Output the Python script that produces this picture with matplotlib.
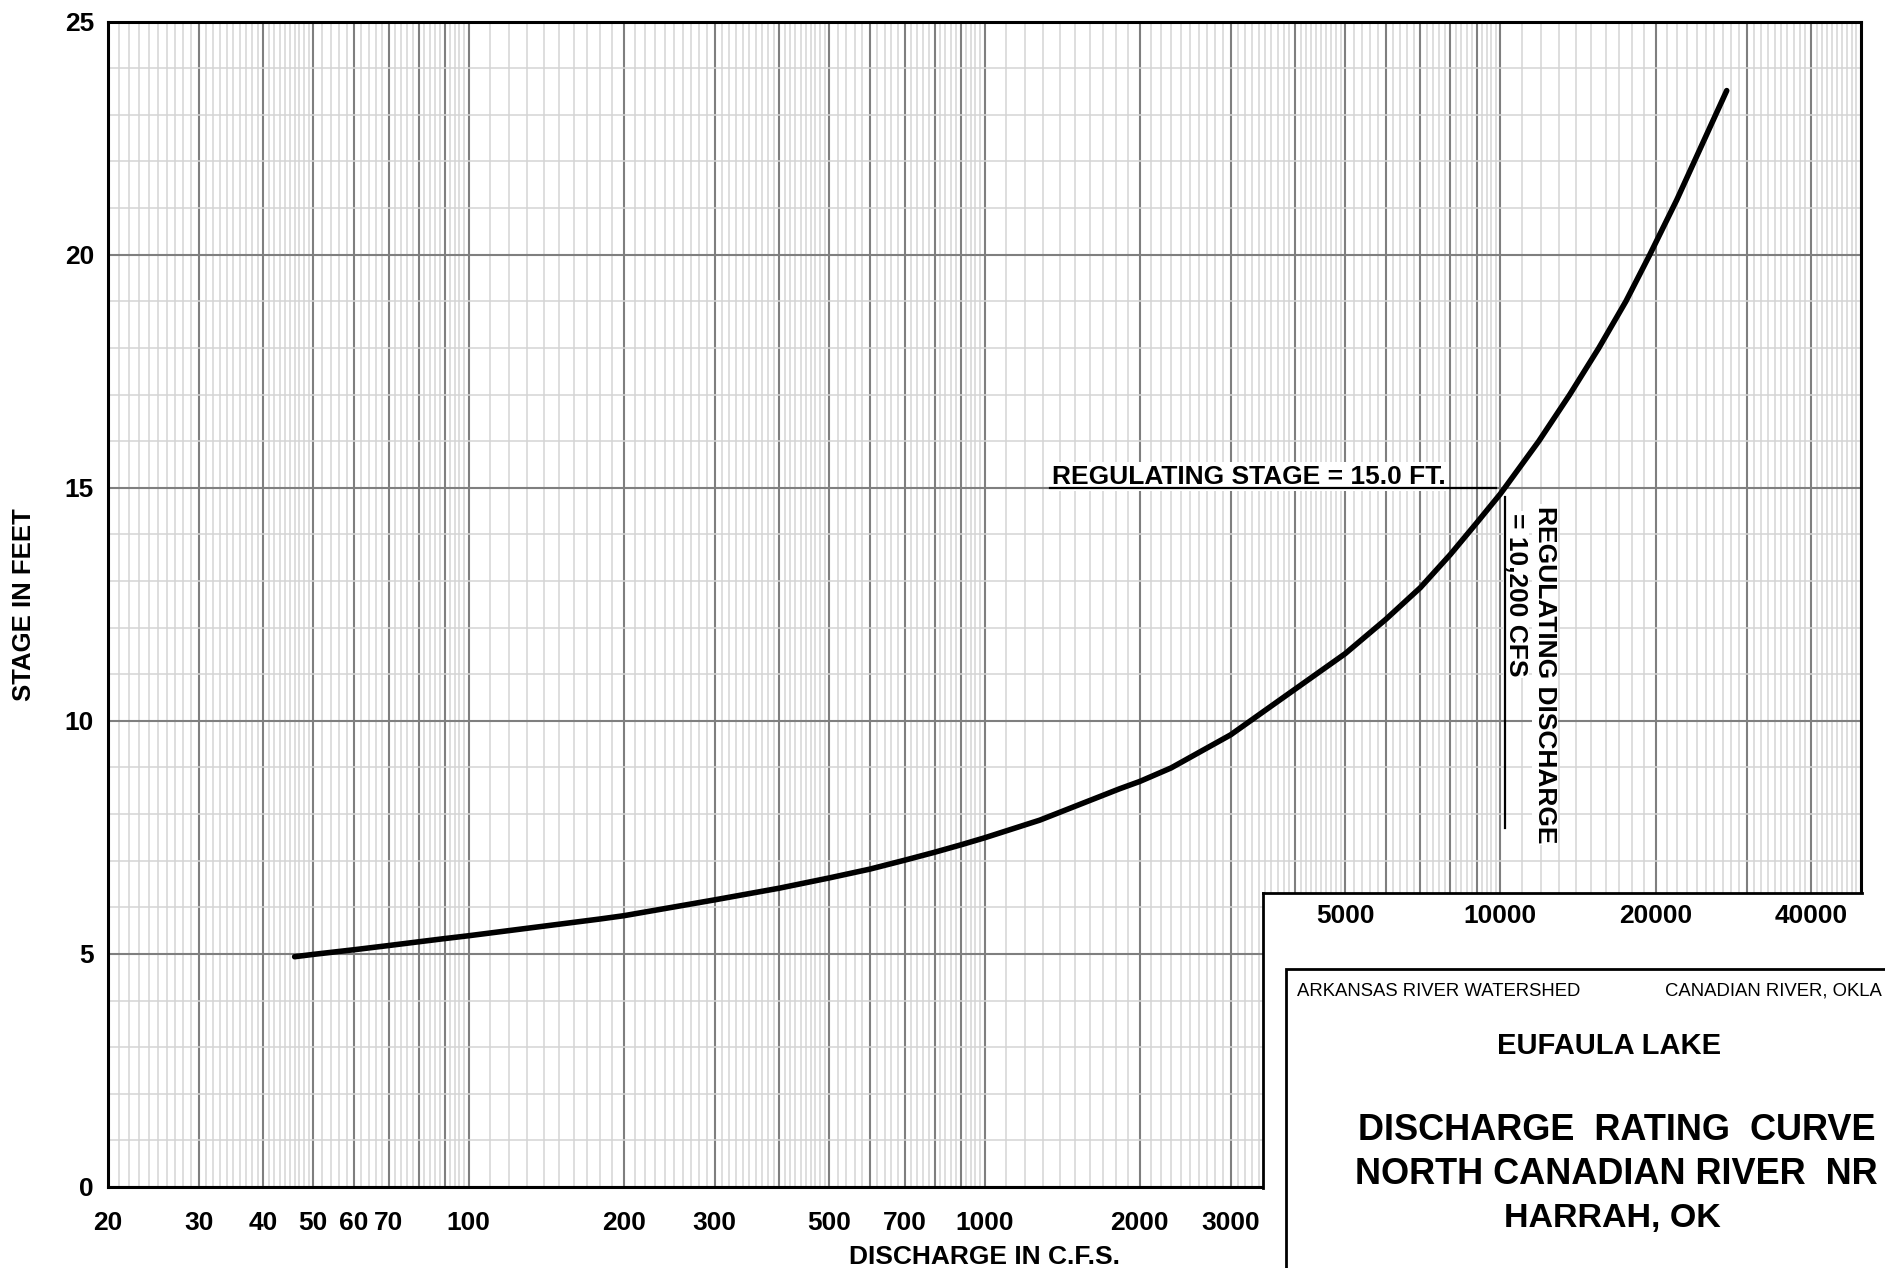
import numpy as np
import matplotlib.pyplot as plt
import matplotlib.transforms as mtransforms
from matplotlib.patches import Rectangle
from matplotlib.lines import Line2D
from matplotlib.ticker import FixedLocator, FuncFormatter, NullFormatter

plt.rcParams['font.family'] = ['Liberation Sans', 'DejaVu Sans']
plt.rcParams['font.weight'] = 'bold'

# rating curve, discharge (cfs) vs stage (ft)
discharge = [46, 50, 60, 70, 80, 90, 100, 180, 200, 300, 400, 500, 600, 700,
             800, 900, 1000, 1280, 1825, 2000, 2300, 3000, 4000, 5000, 6000,
             7000, 8000, 9000, 10000, 10200, 11870, 13630, 15520, 17510,
             19480, 21960, 27460]
stage = [4.94, 4.99, 5.09, 5.18, 5.26, 5.33, 5.39, 5.75, 5.82, 6.16, 6.41,
         6.63, 6.82, 7.01, 7.18, 7.34, 7.49, 7.87, 8.54, 8.70, 8.99, 9.70,
         10.68, 11.44, 12.18, 12.86, 13.57, 14.25, 14.87, 15.0, 16.0, 17.0,
         18.0, 19.0, 20.0, 21.17, 23.52]

reg_stage = 15.0
reg_discharge = 10200

bottom_labels = [20, 30, 40, 50, 60, 70, 100, 200, 300, 500, 700, 1000, 2000, 3000]
box_labels = [5000, 10000, 20000, 40000]
y_labels = [0, 5, 10, 15, 20, 25]

W, H = 1885, 1268
fig = plt.figure(figsize=(W / 100, H / 100), dpi=100)


def fx(px):
    return px / W


def fy(py):
    return 1 - py / H


ax = fig.add_axes([fx(108), fy(1187), fx(1861) - fx(108), fy(21.6) - fy(1187)])
ax.set_xscale('log')
ax.set_xlim(20, 50000)
ax.set_ylim(0, 25)

# log paper grid: heavy lines at every integer, light lines in between
# (tenths up to 5, fifths from 5 to 10)
major_x = [m * 10 ** k for k in range(1, 5) for m in range(1, 10)]
major_x = [v for v in major_x if 20 <= v <= 50000]
subs = list(np.round(np.arange(1.1, 5.0, 0.1), 1)) + list(np.round(np.arange(5.2, 10.0, 0.2), 1))
subs = [m for m in subs if abs(m - round(m)) > 1e-6]
minor_x = [m * 10 ** k for k in range(1, 5) for m in subs]
ax.xaxis.set_major_locator(FixedLocator(major_x))
ax.xaxis.set_minor_locator(FixedLocator(minor_x))
ax.xaxis.set_major_formatter(FuncFormatter(
    lambda v, p: str(int(round(v))) if int(round(v)) in bottom_labels else ''))
ax.xaxis.set_minor_formatter(NullFormatter())

ax.yaxis.set_major_locator(FixedLocator(y_labels))
ax.yaxis.set_minor_locator(FixedLocator(np.arange(0, 26, 1)))
ax.yaxis.set_minor_formatter(NullFormatter())

ax.set_axisbelow(True)
ax.grid(which='minor', color='#d4d4d4', lw=1.1)
ax.grid(which='major', color='#7f7f7f', lw=1.5)
ax.tick_params(which='both', length=0, labelsize=19)
ax.tick_params(axis='x', pad=17)
ax.tick_params(axis='y', pad=10)
for s in ax.spines.values():
    s.set_linewidth(2.2)
    s.set_color('black')

ax.plot(discharge, stage, color='black', lw=4, solid_capstyle='round',
        solid_joinstyle='round', zorder=4)

# regulating stage and discharge callouts
ax.annotate('REGULATING STAGE = 15.0 FT.', xy=(1352, reg_stage), xytext=(0, 3),
            textcoords='offset points', ha='left', va='baseline', fontsize=19,
            bbox=dict(fc='white', ec='none', pad=2), zorder=5)
ax.plot([1340, 9800], [reg_stage, reg_stage], color='black', lw=1.6, zorder=6)

ax.annotate('= 10,200 CFS', xy=(reg_discharge, reg_stage), xytext=(8, -18),
            textcoords='offset points', rotation=270, ha='center', va='top',
            fontsize=19, bbox=dict(fc='white', ec='none', pad=1), zorder=5)
ax.annotate('REGULATING DISCHARGE', xy=(reg_discharge, reg_stage), xytext=(29, -13),
            textcoords='offset points', rotation=270, ha='center', va='top',
            fontsize=19, bbox=dict(fc='white', ec='none', pad=1), zorder=5)
ax.plot([reg_discharge, reg_discharge], [14.8, 7.7], color='black', lw=1.6, zorder=6)

ax.set_xlabel('DISCHARGE IN C.F.S.', fontsize=19, fontweight='bold')
ax.xaxis.set_label_coords(0.5, -0.050)
ax.set_ylabel('STAGE IN FEET', fontsize=18.5, fontweight='bold', va='center')
ax.yaxis.set_label_coords(-0.048, 0.5)

# title block in the lower right corner
fig.add_artist(Rectangle((fx(1264), -0.1), 1.2, fy(893) + 0.1, transform=fig.transFigure,
                         fc='white', ec='none', zorder=5))
fig.add_artist(Line2D([fx(1263), fx(1862)], [fy(893), fy(893)], transform=fig.transFigure,
                      color='black', lw=2, zorder=6))
fig.add_artist(Line2D([fx(1263), fx(1263)], [fy(893), fy(1188)], transform=fig.transFigure,
                      color='black', lw=2, zorder=6))

trans = mtransforms.blended_transform_factory(ax.transData, fig.transFigure)
for v in box_labels:
    fig.text(v, fy(916), str(v), transform=trans, ha='center', va='center',
             fontsize=19, zorder=8)

fig.add_artist(Rectangle((fx(1286), -0.1), 1.0, fy(969) + 0.1, transform=fig.transFigure,
                         fc='white', ec='black', lw=2, zorder=7))

fig.text(fx(1297), fy(991), 'ARKANSAS RIVER WATERSHED', ha='left', va='center',
         fontsize=13.3, fontweight='normal', zorder=8)
fig.text(fx(1665), fy(991), 'CANADIAN RIVER, OKLA', ha='left', va='center',
         fontsize=13.3, fontweight='normal', zorder=8)
fig.text(fx(1609), fy(1046), 'EUFAULA LAKE', ha='center', va='center',
         fontsize=21, zorder=8)
fig.text(fx(1358), fy(1131), 'DISCHARGE  RATING  CURVE', ha='left', va='center',
         fontsize=26, zorder=8)
fig.text(fx(1355), fy(1175), 'NORTH CANADIAN RIVER  NR', ha='left', va='center',
         fontsize=26, zorder=8)
fig.text(fx(1612), fy(1218), 'HARRAH, OK', ha='center', va='center',
         fontsize=24.5, zorder=8)

fig.savefig('out.png', dpi=100)
